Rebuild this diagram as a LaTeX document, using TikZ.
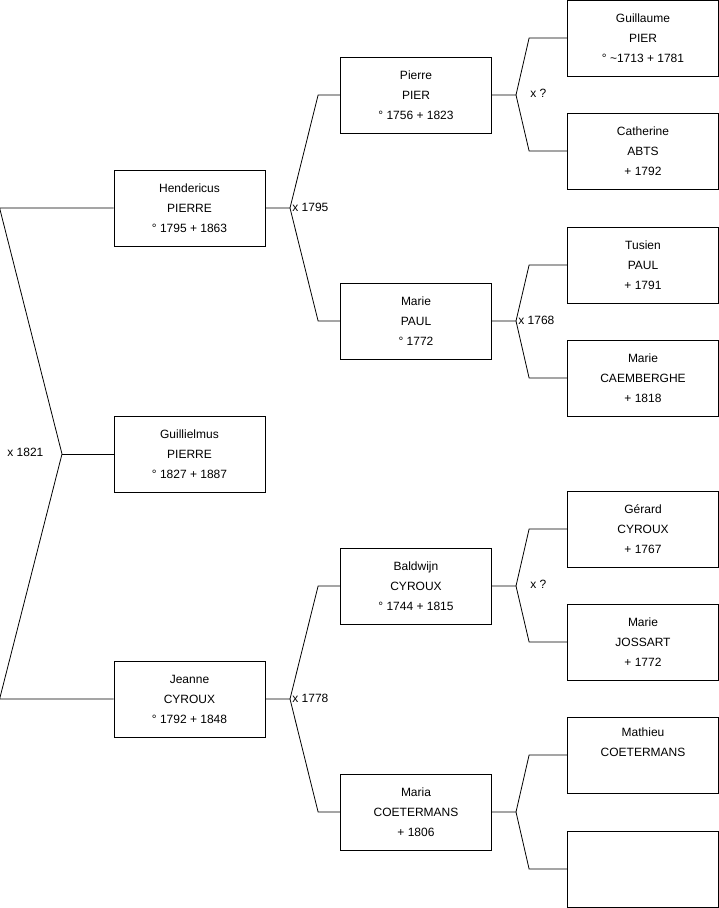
\documentclass[tikz,border=0pt]{standalone}
\usepackage{fontspec}
\setmainfont{Liberation Sans}
\begin{document}
\begin{tikzpicture}[x=1pt, y=-1pt, line width=0.8pt,
    persoon/.style={draw, rectangle, fill=white, minimum width=151pt, minimum height=76pt, inner sep=0pt, align=center, font=\fontsize{12}{20}\selectfont},
    huwelijk/.style={anchor=west, inner sep=1pt, font=\fontsize{12}{14}\selectfont}]
    \useasboundingbox (0,0) rectangle (719,908);
    % kind
    \node[persoon] (guil) at (189.5,454) {Guillielmus\\PIERRE\\° 1827 + 1887};
    % ouders
    \node[persoon] (hend) at (189.5,208) {Hendericus\\PIERRE\\° 1795 + 1863};
    \node[persoon] (jean) at (189.5,699) {Jeanne\\CYROUX\\° 1792 + 1848};
    % grootouders
    \node[persoon] (pier) at (416,95) {Pierre\\PIER\\° 1756 + 1823};
    \node[persoon] (mpau) at (416,321) {Marie\\PAUL\\° 1772};
    \node[persoon] (bald) at (416,586) {Baldwijn\\CYROUX\\° 1744 + 1815};
    \node[persoon] (mcoe) at (416,812) {Maria\\COETERMANS\\+ 1806};
    % overgrootouders
    \node[persoon] (gpie) at (643,38) {Guillaume\\PIER\\° \textasciitilde1713 + 1781};
    \node[persoon] (cabt) at (643,151) {Catherine\\ABTS\\+ 1792};
    \node[persoon] (tpau) at (643,265) {Tusien\\PAUL\\+ 1791};
    \node[persoon] (mcae) at (643,378) {Marie\\CAEMBERGHE\\+ 1818};
    \node[persoon] (gcyr) at (643,529) {Gérard\\CYROUX\\+ 1767};
    \node[persoon] (mjos) at (643,642) {Marie\\JOSSART\\+ 1772};
    \node[persoon] (mtco) at (643,755) {Mathieu\\COETERMANS\\\strut};
    \node[persoon] (leeg) at (643,869) {};
    % huwelijken
    \coordinate (h0) at (62,454);
    \coordinate (h1) at (290,208);
    \coordinate (h2) at (290,699);
    \coordinate (h3) at (516,95);
    \coordinate (h4) at (516,321);
    \coordinate (h5) at (516,586);
    \coordinate (h6) at (516,812);
    \draw (hend.west) -- ([xshift=-114pt]hend.west) -- (h0) -- ([xshift=-114pt]jean.west) -- (jean.west);
    \draw (h0) -- (guil.west);
    \draw (hend.east) -- (h1) -- ([xshift=-22pt]pier.west) -- (pier.west);
    \draw (h1) -- ([xshift=-22pt]mpau.west) -- (mpau.west);
    \draw (jean.east) -- (h2) -- ([xshift=-22pt]bald.west) -- (bald.west);
    \draw (h2) -- ([xshift=-22pt]mcoe.west) -- (mcoe.west);
    \draw (pier.east) -- (h3) -- ([xshift=-38pt]gpie.west) -- (gpie.west);
    \draw (h3) -- ([xshift=-38pt]cabt.west) -- (cabt.west);
    \draw (mpau.east) -- (h4) -- ([xshift=-38pt]tpau.west) -- (tpau.west);
    \draw (h4) -- ([xshift=-38pt]mcae.west) -- (mcae.west);
    \draw (bald.east) -- (h5) -- ([xshift=-38pt]gcyr.west) -- (gcyr.west);
    \draw (h5) -- ([xshift=-38pt]mjos.west) -- (mjos.west);
    \draw (mcoe.east) -- (h6) -- ([xshift=-38pt]mtco.west) -- (mtco.west);
    \draw (h6) -- ([xshift=-38pt]leeg.west) -- (leeg.west);
    \node[huwelijk] (d0) at (6,452) {x 1821};
    \node[huwelijk] (d1) at (291,207) {x 1795};
    \node[huwelijk] (d2) at (291,698) {x 1778};
    \node[huwelijk] (d3) at (529,93) {x ?};
    \node[huwelijk] (d4) at (517,320) {x 1768};
    \node[huwelijk] (d5) at (529,584) {x ?};
\end{tikzpicture}
\end{document}
